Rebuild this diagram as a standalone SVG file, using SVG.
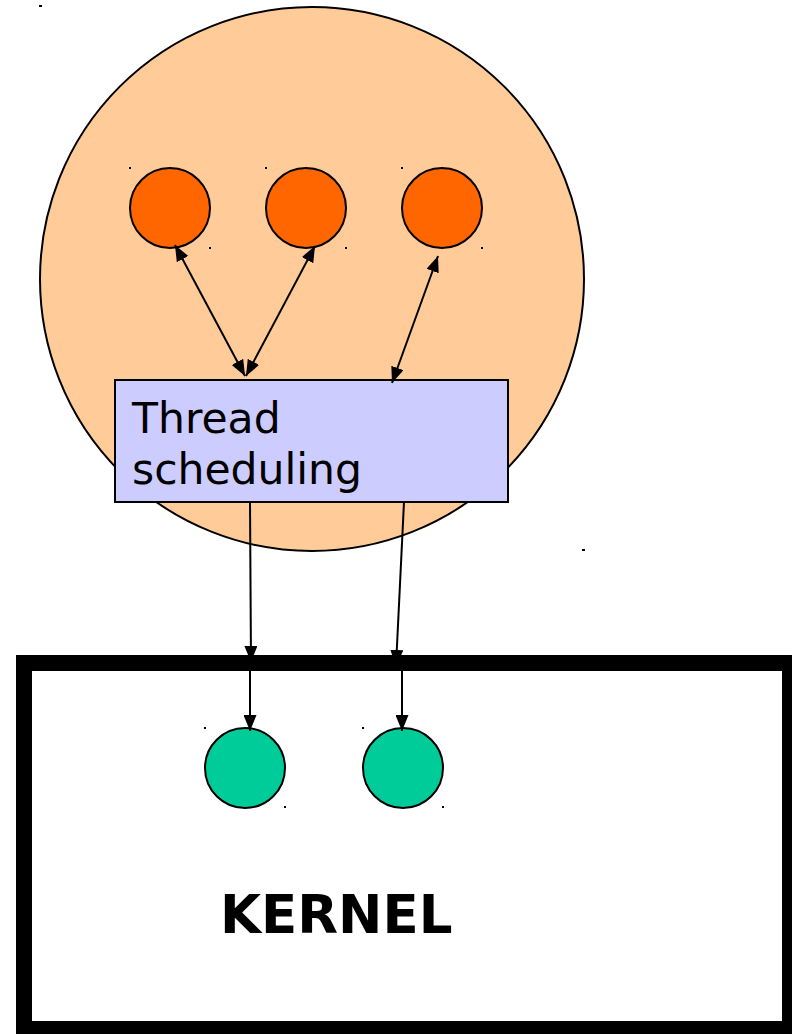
<svg xmlns="http://www.w3.org/2000/svg" width="792" height="1034" viewBox="0 0 792 1034">
  <style>
    .outline { stroke: #000; stroke-width: 2; }
    .proc { fill: #FFCC99; }
    .uthread { fill: #FF6600; }
    .kthread { fill: #00CC99; }
    .sched { fill: #CCCCFF; stroke: #000; stroke-width: 2; }
    .kernel { fill: #fff; stroke: #000; stroke-width: 16; }
    .label { font-family: "DejaVu Sans", "Liberation Sans", sans-serif; fill: #000; }
    .link { stroke: #000; stroke-width: 2; fill: none; }
    .tick { fill: #000; }
  </style>
  <defs>
    <marker id="head" viewBox="0 0 16 13" refX="16" refY="6.5" markerWidth="16" markerHeight="13" markerUnits="userSpaceOnUse" orient="auto-start-reverse">
      <path d="M0,0 L16,6.5 L0,13 Z" fill="#000"/>
    </marker>
  </defs>

  <rect width="792" height="1034" fill="#fff"/>

  <!-- process boundary -->
  <g id="process">
    <circle class="proc outline" cx="312" cy="279" r="272"/>
    <rect class="tick" x="39" y="5" width="3" height="2"/>
    <rect class="tick" x="582" y="549" width="3" height="2"/>
  </g>

  <!-- user-level threads -->
  <g id="user-thread-1">
    <circle class="uthread outline" cx="170" cy="208" r="40"/>
    <rect class="tick" x="129" y="167" width="2" height="2"/>
    <rect class="tick" x="209" y="247" width="2" height="2"/>
  </g>
  <g id="user-thread-2">
    <circle class="uthread outline" cx="306" cy="208" r="40"/>
    <rect class="tick" x="265" y="167" width="2" height="2"/>
    <rect class="tick" x="345" y="247" width="2" height="2"/>
  </g>
  <g id="user-thread-3">
    <circle class="uthread outline" cx="442" cy="208" r="40"/>
    <rect class="tick" x="401" y="167" width="2" height="2"/>
    <rect class="tick" x="481" y="247" width="2" height="2"/>
  </g>

  <!-- kernel -->
  <g id="kernel">
    <rect class="kernel" x="24" y="663" width="766" height="366"/>
    <text class="label" x="220" y="933" font-size="53" font-weight="bold">KERNEL</text>
  </g>

  <!-- kernel threads -->
  <g id="kernel-thread-1">
    <circle class="kthread outline" cx="245" cy="768" r="40"/>
    <rect class="tick" x="204" y="727" width="2" height="2"/>
    <rect class="tick" x="284" y="806" width="2" height="2"/>
  </g>
  <g id="kernel-thread-2">
    <circle class="kthread outline" cx="403" cy="768" r="40"/>
    <rect class="tick" x="362" y="727" width="2" height="2"/>
    <rect class="tick" x="442" y="806" width="2" height="2"/>
  </g>

  <!-- scheduler -->
  <g id="thread-scheduling">
    <rect class="sched" x="115" y="380" width="393" height="122"/>
    <text class="label" font-size="42.5">
      <tspan x="132" y="433">Thread</tspan>
      <tspan x="132" y="484">scheduling</tspan>
    </text>
  </g>

  <!-- connectors -->
  <g id="connectors">
    <line class="link" x1="175" y1="245" x2="245" y2="376" marker-start="url(#head)" marker-end="url(#head)"/>
    <line class="link" x1="315" y1="246" x2="246" y2="376" marker-start="url(#head)" marker-end="url(#head)"/>
    <line class="link" x1="438" y1="256" x2="392" y2="383" marker-start="url(#head)" marker-end="url(#head)"/>
    <line class="link" x1="250" y1="502" x2="251" y2="662" marker-end="url(#head)"/>
    <line class="link" x1="404" y1="502" x2="396" y2="666" marker-end="url(#head)"/>
    <line class="link" x1="250" y1="663" x2="250" y2="731" marker-end="url(#head)"/>
    <line class="link" x1="402" y1="668" x2="402" y2="731" marker-end="url(#head)"/>
  </g>
</svg>
